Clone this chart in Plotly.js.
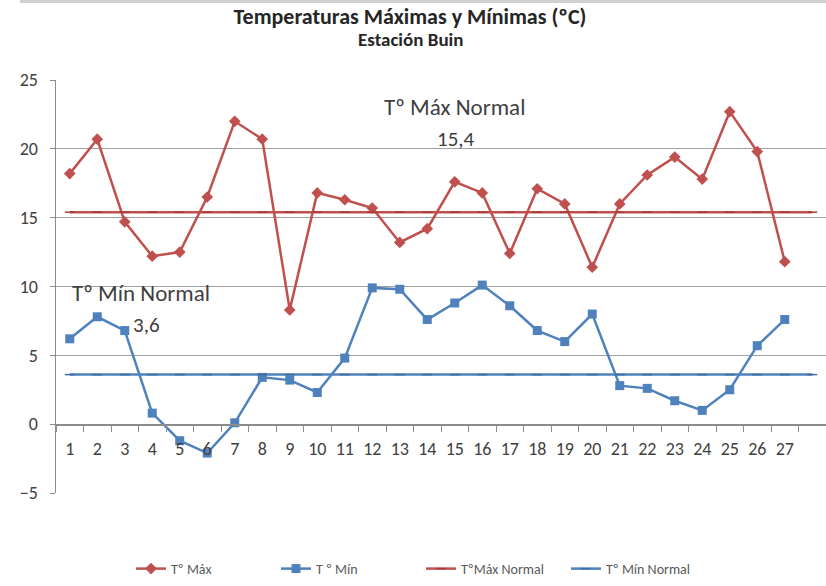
<!DOCTYPE html>
<html><head><meta charset="utf-8">
<script src="https://cdn.plot.ly/plotly-3.0.1.min.js"></script>
<style>html,body{margin:0;padding:0;background:#fff}</style>
</head><body>
<div id="chart" style="width:826px;height:586px"></div>
<script>
const days = [1,2,3,4,5,6,7,8,9,10,11,12,13,14,15,16,17,18,19,20,21,22,23,24,25,26,27];
const normalDays = [1,2,3,4,5,6,7,8,9,10,11,12,13,14,15,16,17,18,19,20,21,22,23,24,25,26,27,28];
const tMax = [18.2,20.7,14.7,12.2,12.5,16.5,22.0,20.7,8.3,16.8,16.3,15.7,13.2,14.2,17.6,16.8,12.4,17.1,16.0,11.4,16.0,18.1,19.4,17.8,22.7,19.8,11.8];
const tMin = [6.2,7.8,6.8,0.8,-1.2,-2.1,0.1,3.4,3.2,2.3,4.8,9.9,9.8,7.6,8.8,10.1,8.6,6.8,6.0,8.0,2.8,2.6,1.7,1.0,2.5,5.7,7.6];
const maxNormalValue = 15.4;
const minNormalValue = 3.6;
const maxNormal = normalDays.map(() => maxNormalValue);
const minNormal = normalDays.map(() => minNormalValue);
const tickLabels = days.map(String);

const red = '#C0504D', blue = '#4F81BD';
const F = 'Carlito, "Liberation Sans Narrow", "Liberation Sans", Arial, sans-serif';

const traces = [
  {x: days, y: tMax, name: 'Tº Máx', mode: 'lines+markers', type: 'scatter',
   line: {color: red, width: 2.5}, marker: {symbol: 'diamond', size: 9, color: red}},
  {x: days, y: tMin, name: 'T º Mín', mode: 'lines+markers', type: 'scatter',
   line: {color: blue, width: 2.5}, marker: {symbol: 'square', size: 9, color: blue}},
  {x: normalDays, y: maxNormal, name: 'TºMáx Normal', mode: 'lines+markers', type: 'scatter',
   line: {color: red, width: 2.5}, marker: {symbol: 'line-ew', size: 7, line: {color: '#a33c39', width: 1.5}}},
  {x: normalDays, y: minNormal, name: 'Tº Mín Normal', mode: 'lines+markers', type: 'scatter',
   line: {color: blue, width: 2.5}, marker: {symbol: 'line-ew', size: 7, line: {color: '#3d6a9e', width: 1.5}}}
];

const layout = {
  width: 826, height: 586,
  margin: {l: 56, r: 0, t: 80, b: 93},
  paper_bgcolor: '#fff', plot_bgcolor: '#fff',
  showlegend: true,
  title: {text: '<b>Temperaturas Máximas y Mínimas (ºC)</b>', x: 0.5 - 31/770, xref: 'paper', xanchor: 'center',
          y: 1 - 16/586, yref: 'container', yanchor: 'middle',
          font: {family: F, size: 22, color: '#262626'}},
  xaxis: {range: [0.5, 28.5], anchor: 'free', position: 5/30,
          tickmode: 'array', tickvals: days, ticktext: tickLabels, ticks: '', ticklabelstandoff: 8,
          showline: true, linecolor: '#8c8c8c', linewidth: 1.5, showgrid: false, zeroline: false,
          tickfont: {family: F, size: 18, color: '#404040'},
          minor: {ticks: 'outside', ticklen: 6, tickcolor: '#8c8c8c', tick0: 0.5, dtick: 1, showgrid: false}},
  yaxis: {range: [-5, 25], dtick: 5, tick0: 0, showline: true, linecolor: '#8c8c8c', linewidth: 1.5,
          ticks: 'outside', ticklen: 5, tickcolor: '#8c8c8c', ticklabelstandoff: 8,
          showgrid: true, gridcolor: '#a0a0a0', gridwidth: 1.2, zeroline: false,
          tickfont: {family: F, size: 18, color: '#404040'}},
  legend: {orientation: 'h', x: 0.5 - 20/770, xanchor: 'center', xref: 'paper', y: -76/413, yanchor: 'middle',
           font: {family: F, size: 14, color: '#595959'}, itemwidth: 30, entrywidth: 100, entrywidthmode: 'pixels',
           bgcolor: 'rgba(0,0,0,0)'},
  annotations: [
    {text: '<b>Estación Buin</b>', xref: 'paper', yref: 'paper', x: 0.5 - 31/770, y: (493-39)/413, yanchor: 'middle',
     showarrow: false, font: {family: F, size: 19, color: '#262626'}},
    {text: 'Tº Máx Normal', xref: 'x', yref: 'paper', x: 15.0, y: (493-107)/413, yanchor: 'middle',
     showarrow: false, font: {family: F, size: 23, color: '#404040'}},
    {text: '15,4', xref: 'x', yref: 'paper', x: 15.05, y: (493-139)/413, yanchor: 'middle',
     showarrow: false, font: {family: F, size: 21, color: '#404040'}},
    {text: 'Tº Mín Normal', xref: 'x', yref: 'paper', x: 3.6, y: (493-293)/413, yanchor: 'middle',
     showarrow: false, font: {family: F, size: 23, color: '#404040'}},
    {text: '3,6', xref: 'x', yref: 'paper', x: 3.8, y: (493-325)/413, yanchor: 'middle',
     showarrow: false, font: {family: F, size: 21, color: '#404040'}}
  ],
  shapes: [
    {type: 'rect', xref: 'paper', yref: 'paper', x0: (20-56)/770, x1: 1, y0: (493-3)/413, y1: 493/413,
     fillcolor: '#d0d0d0', line: {width: 0}, layer: 'above'}
  ]
};

Plotly.newPlot('chart', traces, layout, {displayModeBar: false, staticPlot: true});
</script>
</body></html>
